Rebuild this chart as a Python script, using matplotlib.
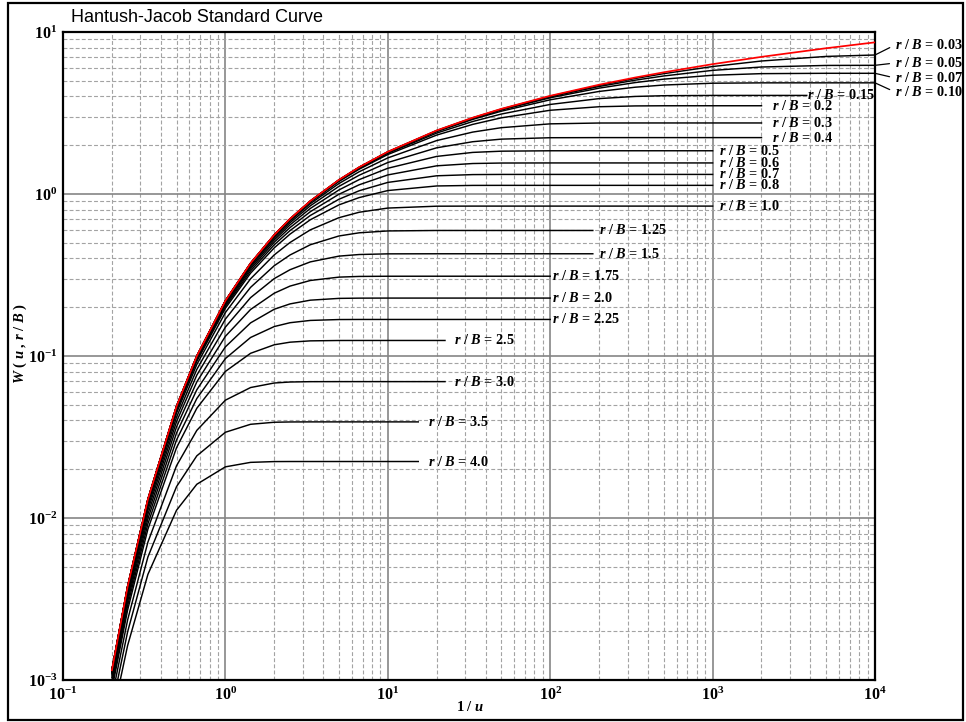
import numpy as np
import matplotlib
matplotlib.use("Agg")
import matplotlib.pyplot as plt
from matplotlib.ticker import LogLocator, FuncFormatter, NullFormatter
from matplotlib.patches import Rectangle

plt.rcParams['mathtext.fontset'] = 'custom'
plt.rcParams['mathtext.rm'] = 'Liberation Serif:bold'
plt.rcParams['mathtext.bf'] = 'Liberation Serif:bold'
plt.rcParams['mathtext.it'] = 'Liberation Serif:italic:bold'

# ---------------- data ----------------
# 1/u grid (x values)
INV_U = [0.2, 0.25, 0.3333, 0.5, 0.6667, 1.0, 1.4286, 2.0, 2.5, 3.333, 5.0, 6.667, 10.0,
         20.0, 33.33, 50.0, 100.0, 200.0, 333.3, 500.0, 1000.0, 2000.0, 5000.0, 10000.0]

# Theis curve W(u)
THEIS = [0.001148, 0.003779, 0.01305, 0.04890, 0.1000, 0.2194, 0.3738, 0.5598, 0.7024, 0.9057,
         1.2227, 1.4645, 1.8229, 2.4679, 2.9591, 3.3547, 4.0379, 4.7261, 5.2349, 5.6394, 6.3315,
         7.0242, 7.9402, 8.6332]

# leaky curves W(u, r/B)
W_003 = [0.001148, 0.003779, 0.01305, 0.04890, 0.1000, 0.2193, 0.3737, 0.5596, 0.7022, 0.9053,
         1.2220, 1.4635, 1.8213, 2.4642, 2.9525, 3.3444, 4.0167, 4.6829, 5.1627, 5.5315, 6.1202,
         6.6220, 7.0665, 7.2123]
W_005 = [0.001148, 0.003779, 0.01305, 0.04890, 0.09997, 0.2193, 0.3736, 0.5594, 0.7018, 0.9047,
         1.2209, 1.4618, 1.8184, 2.4576, 2.9408, 3.3266, 3.9796, 4.6085, 5.0408, 5.3536, 5.7961,
         6.0809, 6.2174, 6.2282]
W_007 = [0.001148, 0.003778, 0.01305, 0.04888, 0.09994, 0.2192, 0.3734, 0.5590, 0.7012, 0.9038,
         1.2192, 1.4593, 1.8141, 2.4478, 2.9234, 3.2996, 3.9251, 4.5021, 4.8717, 5.1167, 5.4074,
         5.5330, 5.5593, 5.5596]
W_010 = [0.001148, 0.003777, 0.01304, 0.04885, 0.09988, 0.2190, 0.3730, 0.5582, 0.7000, 0.9018,
         1.2155, 1.4539, 1.8050, 2.4271, 2.8871, 3.2442, 3.8150, 4.2959, 4.5619, 4.7067, 4.8292,
         4.8530, 4.8541, 4.8541]
W_015 = [0.001147, 0.003775, 0.01303, 0.04880, 0.09973, 0.2186, 0.3719, 0.5561, 0.6969, 0.8969,
         1.2067, 1.4408, 1.7829, 2.3776, 2.8018, 3.1157, 3.5717, 3.8801, 4.0017, 4.0435, 4.0595,
         4.0601]
W_02 = [0.001146, 0.003771, 0.01301, 0.04871, 0.09951, 0.2179, 0.3704, 0.5533, 0.6928, 0.8903,
        1.1944, 1.4226, 1.7527, 2.3110, 2.6895, 2.9521, 3.2875, 3.4567, 3.4968, 3.5043, 3.5054]
W_03 = [0.001144, 0.003761, 0.01297, 0.04848, 0.09890, 0.2161, 0.3663, 0.5453, 0.6809, 0.8714,
        1.1602, 1.3725, 1.6703, 2.1371, 2.4110, 2.5667, 2.7104, 2.7428, 2.7448, 2.7449, 2.7449]
W_04 = [0.001140, 0.003747, 0.01291, 0.04815, 0.09805, 0.2136, 0.3607, 0.5344, 0.6647, 0.8457,
        1.1145, 1.3063, 1.5644, 1.9283, 2.1022, 2.1810, 2.2254, 2.2290, 2.2291, 2.2291, 2.2291]
W_05 = [0.001136, 0.003729, 0.01283, 0.04773, 0.09702, 0.2103, 0.3535, 0.5206, 0.6446, 0.8142,
        1.0590, 1.2270, 1.4417, 1.7063, 1.8061, 1.8378, 1.8485, 1.8488, 1.8488, 1.8488]
W_06 = [0.001130, 0.003707, 0.01273, 0.04726, 0.09575, 0.2064, 0.3449, 0.5044, 0.6209, 0.7775,
        0.9964, 1.1400, 1.3114, 1.4927, 1.5423, 1.5530, 1.5550, 1.5550, 1.5550, 1.5550]
W_07 = [0.001124, 0.003681, 0.01262, 0.04670, 0.09430, 0.2020, 0.3350, 0.4860, 0.5945, 0.7370,
        0.9280, 1.0473, 1.1790, 1.2954, 1.3177, 1.3207, 1.3210, 1.3210, 1.3210, 1.3210]
W_08 = [0.001117, 0.003651, 0.01248, 0.04605, 0.09270, 0.1970, 0.3245, 0.4655, 0.5653, 0.6934,
        0.8566, 0.9505, 1.0502, 1.1210, 1.1299, 1.1307, 1.1307, 1.1307, 1.1307, 1.1307]
W_10 = [0.001100, 0.003590, 0.01220, 0.04440, 0.08860, 0.1855, 0.2995, 0.4210, 0.5020, 0.6006,
        0.7141, 0.7716, 0.8188, 0.8409, 0.8420, 0.8420, 0.8420, 0.8420, 0.8420, 0.8420]
W_125 = [0.001075, 0.003480, 0.01170, 0.04190, 0.08260, 0.1690, 0.2652, 0.3611, 0.4203, 0.4861,
         0.5506, 0.5761, 0.5915, 0.5954, 0.5954, 0.5954, 0.5954]
W_15 = [0.001040, 0.003350, 0.01118, 0.03930, 0.07620, 0.1508, 0.2292, 0.3006, 0.3409, 0.3810,
        0.4135, 0.4231, 0.4271, 0.4276, 0.4276, 0.4276, 0.4276]
W_175 = [0.001000, 0.003205, 0.01055, 0.03650, 0.06915, 0.1323, 0.1937, 0.2442, 0.2701, 0.2925,
         0.3068, 0.3099, 0.3107, 0.3108, 0.3108, 0.3108]
W_20 = [0.000962, 0.003050, 0.00990, 0.03345, 0.06186, 0.1139, 0.1601, 0.1944, 0.2097, 0.2211,
        0.2268, 0.2276, 0.2278, 0.2278, 0.2278, 0.2278]
W_225 = [0.000912, 0.002880, 0.00922, 0.03030, 0.05464, 0.0964, 0.1301, 0.1520, 0.1605, 0.1658,
         0.1679, 0.1681, 0.1681, 0.1681, 0.1681, 0.1681]
W_25 = [0.000873, 0.002705, 0.00854, 0.02714, 0.04758, 0.08031, 0.1039, 0.1173, 0.1217, 0.1240,
        0.12466, 0.1247, 0.1247, 0.1247]
W_30 = [0.000778, 0.002348, 0.00710, 0.02101, 0.03474, 0.05338, 0.06387, 0.06813, 0.06909, 0.06943,
        0.06948, 0.06948, 0.06948, 0.06948]
W_35 = [0.000674, 0.001983, 0.005747, 0.01561, 0.02419, 0.03383, 0.03788, 0.03900, 0.03916, 0.03920,
        0.03920, 0.03920, 0.03920]
W_40 = [0.000574, 0.001633, 0.004489, 0.01116, 0.01615, 0.02069, 0.02205, 0.02230, 0.02232, 0.02232,
        0.02232, 0.02232, 0.02232]

RB_LABELS = ['0.03', '0.05', '0.07', '0.10', '0.15', '0.2', '0.3', '0.4', '0.5', '0.6', '0.7',
             '0.8', '1.0', '1.25', '1.5', '1.75', '2.0', '2.25', '2.5', '3.0', '3.5', '4.0']
SERIES = [W_003, W_005, W_007, W_010, W_015, W_02, W_03, W_04, W_05, W_06, W_07,
          W_08, W_10, W_125, W_15, W_175, W_20, W_225, W_25, W_30, W_35, W_40]
# 1/u where each drawn curve stops
X_END = [10000, 10000, 10000, 10000, 3800, 2000, 2000, 2000, 1000, 1000, 1000,
         1000, 1000, 183, 183, 100, 100, 100, 22.5, 22.5, 15.4, 15.4]

# ---------------- layout ----------------
# label left x (data) for inside labels; None -> outside label with leader
LABEL_X = [None, None, None, None, 3810, 2320, 2320, 2320, 1100, 1100, 1100,
           1100, 1100, 201, 201, 103, 103, 103, 25.6, 25.6, 17.7, 17.7]
# outside labels: y position in pixels from top of the figure
OUT_LABEL_Y = {'0.03': 45, '0.05': 63, '0.07': 78, '0.10': 92}

W_PX, H_PX = 966, 722
fig = plt.figure(figsize=(W_PX / 100, H_PX / 100), dpi=100)
ax = fig.add_axes([63 / W_PX, 1 - 680 / H_PX, (875 - 63) / W_PX, (680 - 32) / H_PX])
ax.set_xscale('log')
ax.set_yscale('log')
ax.set_xlim(0.1, 1e4)
ax.set_ylim(1e-3, 10)

for axis in (ax.xaxis, ax.yaxis):
    axis.set_major_locator(LogLocator(base=10, numticks=20))
    axis.set_minor_locator(LogLocator(base=10, subs=np.arange(2, 10), numticks=200))
    axis.set_minor_formatter(NullFormatter())
    axis.set_major_formatter(FuncFormatter(
        lambda v, p: r'$\mathbf{10^{%d}}$' % int(round(np.log10(v)))))

ax.grid(which='major', color='#858585', lw=1.2, ls='-')
ax.grid(which='minor', color='#a3a3a3', lw=0.8, ls=(0, (3.5, 2)))
ax.set_axisbelow(True)
ax.tick_params(which='both', length=0, labelsize=11.5, colors='black')
ax.tick_params(axis='x', pad=4)
ax.tick_params(axis='y', pad=4)
for sp in ax.spines.values():
    sp.set_linewidth(1.6)
    sp.set_color('black')

serif = 'Liberation Serif'
LBL_FS = 10.3

for lab, w, xe, lx in zip(RB_LABELS, SERIES, X_END, LABEL_X):
    xs = [x for x in INV_U if x < xe]
    n = len(xs)
    ys = list(w[:n])
    ys.append(w[n] if len(w) > n else w[-1])
    xs.append(xe)
    ax.plot(xs, ys, color='black', lw=1.05, zorder=3, solid_joinstyle='round')
    txt = r'$r$ / $B$ = ' + lab
    if lx is not None:
        ax.text(lx, ys[-1], txt, ha='left', va='center', fontsize=LBL_FS,
                fontweight='bold', family=serif, zorder=5)
    else:
        ty = H_PX - OUT_LABEL_Y[lab]
        ax.annotate(txt, xy=(xe, ys[-1]), xycoords='data',
                    xytext=(895, ty), textcoords='figure pixels',
                    ha='left', va='center', fontsize=LBL_FS, fontweight='bold',
                    family=serif, annotation_clip=False,
                    arrowprops=dict(arrowstyle='-', color='black', lw=0.9,
                                    shrinkA=2, shrinkB=0, relpos=(0, 0.5)))

ax.plot(INV_U, THEIS, color='red', lw=1.25, zorder=4)

# axis labels
fig.text(470 / W_PX, 1 - 707 / H_PX, r'1 / $u$', ha='center', va='center',
         fontsize=10.5, fontweight='bold', family=serif)
fig.text(20 / W_PX, 1 - 343 / H_PX, r'$W$ ( $u$ , $r$ / $B$ )', ha='center', va='center',
         rotation=90, fontsize=10.5, fontweight='bold', family=serif)

# title
fig.text(71 / W_PX, 1 - 18 / H_PX, 'Hantush-Jacob Standard Curve', ha='left', va='center',
         fontsize=13, family='Liberation Sans')

# outer frame
fig.patches.append(Rectangle((8 / W_PX, 2 / H_PX), (963 - 8) / W_PX, (719 - 2) / H_PX,
                             transform=fig.transFigure, fill=False, edgecolor='black',
                             lw=1.6, zorder=10))

fig.savefig('out.png', dpi=100)
